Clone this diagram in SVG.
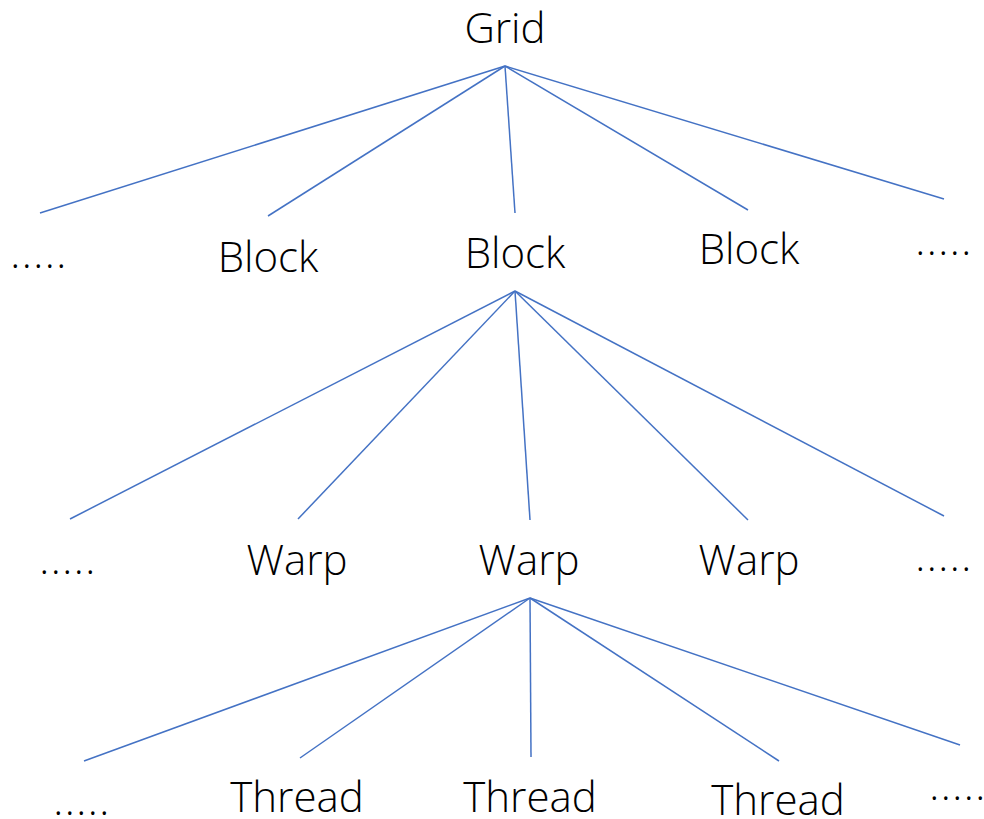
<svg xmlns="http://www.w3.org/2000/svg" width="984" height="819" viewBox="0 0 984 819">
<style>
.t{font-family:"Open Sans","Noto Sans","DejaVu Sans",sans-serif;font-weight:300;font-size:42px;fill:#000;text-anchor:middle}
.d{letter-spacing:1.5px}
.c line{stroke:#4472C4;stroke-width:1.5}
</style>
<rect width="984" height="819" fill="#fff"/>
<g class="c" id="connectors">
<line x1="505" y1="66" x2="40" y2="213"/>
<line x1="505" y1="66" x2="268" y2="216"/>
<line x1="505" y1="66" x2="515" y2="213"/>
<line x1="505" y1="66" x2="748" y2="210"/>
<line x1="505" y1="66" x2="944" y2="199"/>
<line x1="515" y1="291" x2="70" y2="519"/>
<line x1="515" y1="291" x2="298" y2="519"/>
<line x1="515" y1="291" x2="530" y2="520"/>
<line x1="515" y1="291" x2="748" y2="520"/>
<line x1="515" y1="291" x2="944" y2="516"/>
<line x1="530" y1="598" x2="84" y2="761"/>
<line x1="530" y1="598" x2="300" y2="758"/>
<line x1="530" y1="598" x2="531" y2="757"/>
<line x1="530" y1="598" x2="779" y2="761"/>
<line x1="530" y1="598" x2="960" y2="745"/>
</g>
<g id="grid"><text class="t" x="505" y="43">Grid</text></g>
<g id="block-dots-left"><text class="t d" x="39" y="268">.....</text></g>
<g id="block1"><text class="t" x="268" y="272">Block</text></g>
<g id="block2"><text class="t" x="515" y="268">Block</text></g>
<g id="block3"><text class="t" x="749" y="264">Block</text></g>
<g id="block-dots-right"><text class="t d" x="944" y="255">.....</text></g>
<g id="warp-dots-left"><text class="t d" x="68" y="574">.....</text></g>
<g id="warp1"><text class="t" x="297" y="575">Warp</text></g>
<g id="warp2"><text class="t" x="529" y="575">Warp</text></g>
<g id="warp3"><text class="t" x="749" y="575">Warp</text></g>
<g id="warp-dots-right"><text class="t d" x="944" y="571">.....</text></g>
<g id="thread-dots-left"><text class="t d" x="82" y="815">.....</text></g>
<g id="thread1"><text class="t" x="297" y="812">Thread</text></g>
<g id="thread2"><text class="t" x="530" y="812">Thread</text></g>
<g id="thread3"><text class="t" x="778" y="815">Thread</text></g>
<g id="thread-dots-right"><text class="t d" x="958" y="800">.....</text></g>
</svg>
